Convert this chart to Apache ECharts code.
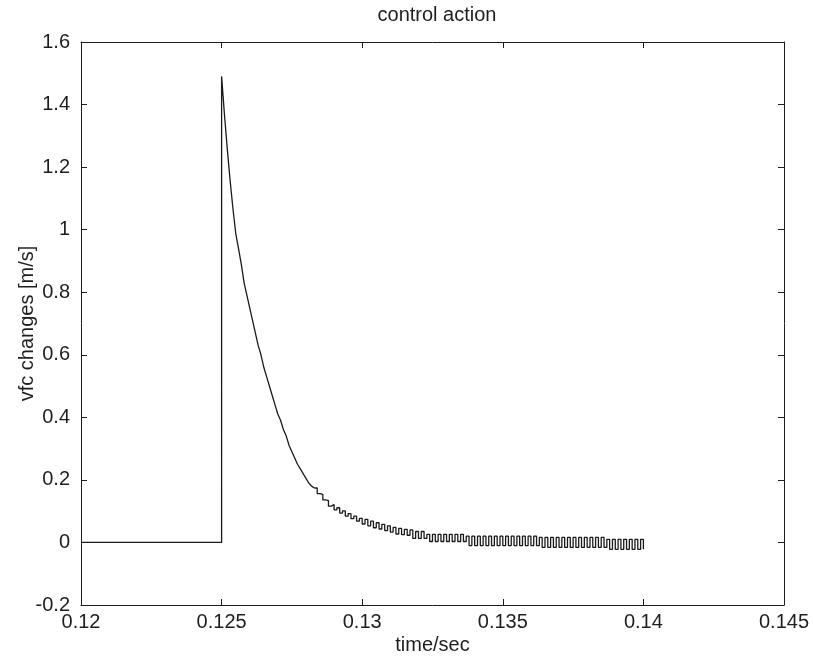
<!DOCTYPE html>
<html>
<head>
<meta charset="utf-8">
<title>control action</title>
<script src="https://cdn.jsdelivr.net/npm/echarts@6/dist/echarts.min.js"></script>
<style>
  html, body { margin: 0; padding: 0; background: #ffffff; }
  #chart { width: 813px; height: 665px; }
</style>
</head>
<body>
<div id="chart"></div>
<script>
// Controller output vfc (m/s) around the disturbance at t = 0.125 s.
// Before the step the output is held at zero.
const preStepTime = [0.12, 0.125];
const preStepValue = [0, 0];

// Sampled controller output, one value per sample, starting at t = 0.125 s.
const sampleStart = 0.125;
const samplePeriod = 0.0001;
const vfcSamples = [
  // fast decay after the step
  1.49, 1.37, 1.26, 1.16, 1.07, 0.99, 0.94, 0.89, 0.83, 0.79,
  0.75, 0.71, 0.67, 0.63, 0.60, 0.56, 0.53, 0.50, 0.47, 0.44,
  0.41, 0.39, 0.36, 0.34, 0.31, 0.29, 0.27, 0.25, 0.235, 0.22,
  0.205, 0.19, 0.18,
  // chattering begins
  0.174, 0.156, 0.154, 0.136, 0.134, 0.116, 0.121,
  0.104, 0.111, 0.094, 0.101, 0.084, 0.092, 0.076, 0.084, 0.068, 0.077,
  0.059, 0.074, 0.053, 0.068, 0.047, 0.063, 0.043, 0.058, 0.038, 0.053,
  0.033, 0.048, 0.027, 0.045, 0.025, 0.042, 0.023, 0.040,
  // quantised tail, alternating between two levels
  0.013, 0.035, 0.013, 0.035, 0.013,
  0.026, 0.003, 0.026, 0.003, 0.026, 0.003, 0.026, 0.003, 0.026, 0.003,
  0.026, 0.003, 0.026, 0.003,
  0.020, -0.010, 0.020, -0.010, 0.020, -0.010, 0.020, -0.010, 0.020, -0.010,
  0.020, -0.010, 0.020, -0.010, 0.020, -0.010, 0.020, -0.010, 0.020, -0.010,
  0.020, -0.010, 0.020, -0.010, 0.020, -0.010,
  0.016, -0.016, 0.016, -0.016, 0.016, -0.016, 0.016, -0.016, 0.016, -0.016,
  0.016, -0.016, 0.016, -0.016, 0.016, -0.016, 0.016, -0.016, 0.016, -0.016,
  0.016, -0.016, 0.016, -0.016,
  0.010, -0.022, 0.010, -0.022, 0.010, -0.022, 0.010, -0.022, 0.010, -0.022,
  0.010, -0.022, 0.010, -0.022
];
// Index of the first sample where the output starts to chatter
const chatterFrom = 33;

// Axis ticks
const xTicks = [0.12, 0.125, 0.13, 0.135, 0.14, 0.145];
const yTicks = [-0.2, 0, 0.2, 0.4, 0.6, 0.8, 1, 1.2, 1.4, 1.6];

const titleText = 'control action';
const xName = 'time/sec';
const yName = 'vfc changes [m/s]';

// [t, v] pairs: smooth part drawn as a plain line, chattering part as a held (stair) signal
const sampleTime = k => +(sampleStart + k * samplePeriod).toFixed(5);
const smoothPoints = [];
preStepTime.forEach((t, i) => smoothPoints.push([t, preStepValue[i]]));
const heldPoints = [];
vfcSamples.forEach((v, k) => {
  if (k <= chatterFrom) smoothPoints.push([sampleTime(k), v]);
  if (k >= chatterFrom) heldPoints.push([sampleTime(k), v]);
});

const font = 'Liberation Sans, Arial, Helvetica, sans-serif';
const ink = '#1e1e1e';
const fs = 20;

const xBase = {
  type: 'value',
  min: xTicks[0],
  max: xTicks[xTicks.length - 1],
  interval: 0.005,
  splitLine: { show: false },
  axisLine: { show: true, onZero: false, lineStyle: { color: ink, width: 1 } },
  axisTick: { show: true, inside: true, length: 6, lineStyle: { color: ink } }
};
const yBase = {
  type: 'value',
  min: yTicks[0],
  max: yTicks[yTicks.length - 1],
  interval: 0.2,
  splitLine: { show: false },
  axisLine: { show: true, onZero: false, lineStyle: { color: ink, width: 1 } },
  axisTick: { show: true, inside: true, length: 6, lineStyle: { color: ink } }
};

const lineStyle = { color: '#1a1a1a', width: 1.3 };

const chart = echarts.init(document.getElementById('chart'), null, { renderer: 'canvas' });
chart.setOption({
  backgroundColor: '#ffffff',
  animation: false,
  title: {
    text: titleText,
    left: 432,
    textAlign: 'center',
    top: 0,
    textStyle: { fontFamily: font, fontSize: fs, fontWeight: 'normal', color: ink }
  },
  grid: {
    left: 81, right: 29, top: 42, bottom: 60,
    containLabel: false,
    outerBoundsMode: 'none'
  },
  xAxis: [
    Object.assign({}, xBase, {
      position: 'bottom',
      name: xName,
      nameLocation: 'middle',
      nameGap: 30,
      nameMoveOverlap: false,
      nameTextStyle: { fontFamily: font, fontSize: fs, color: ink },
      axisLabel: {
        show: true, margin: 7, fontFamily: font, fontSize: fs, color: ink,
        formatter: v => String(+v.toFixed(3))
      }
    }),
    Object.assign({}, xBase, { position: 'top', axisLabel: { show: false } })
  ],
  yAxis: [
    Object.assign({}, yBase, {
      position: 'left',
      name: yName,
      nameLocation: 'middle',
      nameGap: 44,
      nameMoveOverlap: false,
      nameTextStyle: { fontFamily: font, fontSize: fs, color: ink },
      axisLabel: {
        show: true, margin: 11, fontFamily: font, fontSize: fs, color: ink,
        formatter: v => String(+v.toFixed(1))
      }
    }),
    Object.assign({}, yBase, { position: 'right', axisLabel: { show: false } })
  ],
  series: [
    {
      type: 'line',
      xAxisIndex: 0,
      yAxisIndex: 0,
      showSymbol: false,
      symbol: 'none',
      data: smoothPoints,
      lineStyle: lineStyle
    },
    {
      type: 'line',
      xAxisIndex: 0,
      yAxisIndex: 0,
      step: 'end',
      showSymbol: false,
      symbol: 'none',
      data: heldPoints,
      lineStyle: lineStyle
    }
  ]
});
</script>
</body>
</html>
